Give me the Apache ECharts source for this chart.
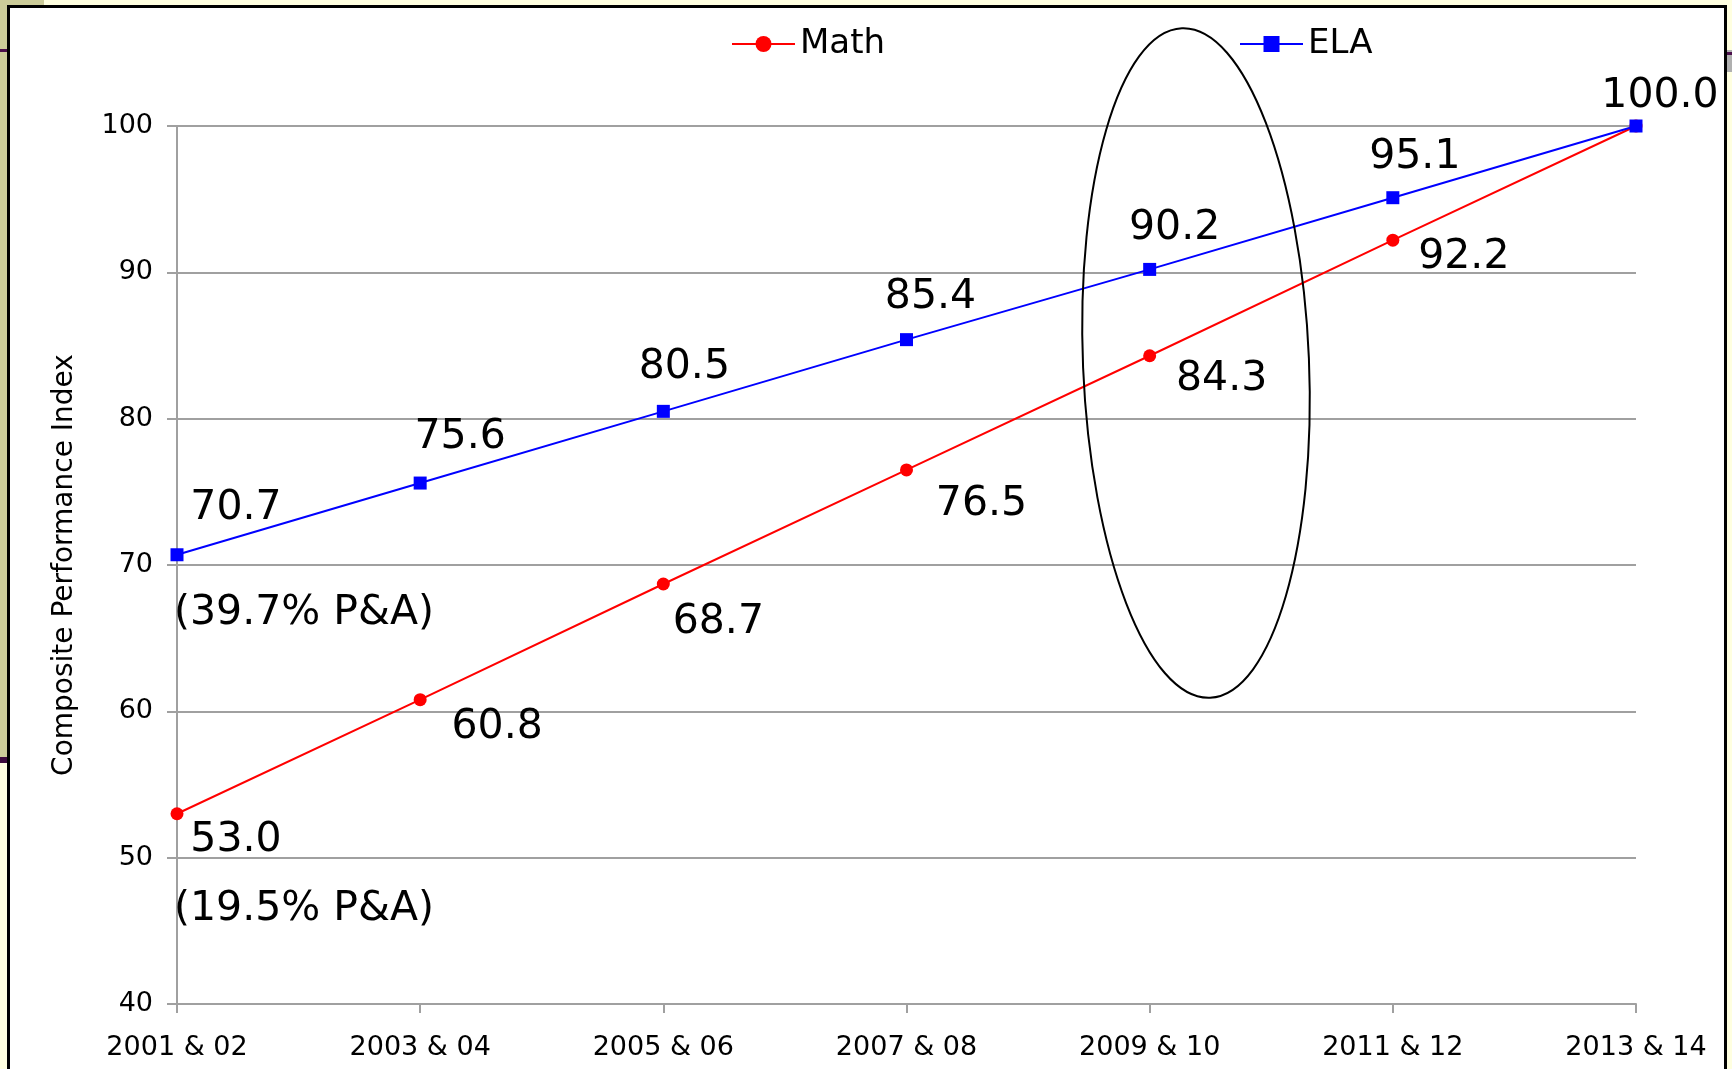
<!DOCTYPE html>
<html>
<head>
<meta charset="utf-8">
<script src="https://cdn.jsdelivr.net/npm/echarts@6/dist/echarts.min.js"></script>
<style>
  html, body { margin: 0; padding: 0; background: #ffffe0; }
  #chart { width: 1732px; height: 1069px; }
</style>
</head>
<body>
<div id="chart"></div>
<script>
// categories and values
const years = ['2001 & 02', '2003 & 04', '2005 & 06', '2007 & 08', '2009 & 10', '2011 & 12', '2013 & 14'];
const mathValues = [53.0, 60.8, 68.7, 76.5, 84.3, 92.2, 100.0];
const elaValues = [70.7, 75.6, 80.5, 85.4, 90.2, 95.1, 100.0];
const yTicks = { min: 40, max: 100, step: 10 };
const notes = ['(39.7% P&A)', '(19.5% P&A)'];

// label nudges (Excel put them a bit unevenly)
const mathShift = [[59, 27], [77, 28], [55, 38], [75, 34], [72, 24], [71, 17], [0, 0]];
const elaShift = [[59, -46], [40, -46], [21, -44], [24, -42], [25, -41], [22, -40], [24, -30]];

const FONT = 'DejaVu Sans';
const GRID_GRAY = '#a0a0a0';

const chart = echarts.init(document.getElementById('chart'));

const labelStyle = {
  color: '#000',
  fontFamily: FONT,
  fontSize: 41
};

const option = {
  backgroundColor: '#ffffe0',
  animation: false,
  graphic: [
    // slide bits around the chart object
    { type: 'rect', z: -10, shape: { x: 0, y: 0, width: 8, height: 760 }, style: { fill: '#cccc99' } },
    { type: 'rect', z: -10, shape: { x: 0, y: 0, width: 44, height: 6 }, style: { fill: '#cccc99' } },
    { type: 'rect', z: -9, shape: { x: 0, y: 49, width: 8, height: 3 }, style: { fill: '#4b0f4b' } },
    { type: 'rect', z: -9, shape: { x: 0, y: 757, width: 8, height: 6 }, style: { fill: '#3d0a3d' } },
    { type: 'rect', z: -10, shape: { x: 1727, y: 50, width: 5, height: 22 }, style: { fill: '#b0b0b0' } },
    { type: 'rect', z: -9, shape: { x: 1727, y: 52, width: 5, height: 3 }, style: { fill: '#4b0f4b' } },
    // white chart area with black frame
    {
      type: 'rect', z: -8,
      shape: { x: 8.5, y: 6.5, width: 1717, height: 1075 },
      style: { fill: '#ffffff', stroke: '#000', lineWidth: 3 }
    },
    // hand-drawn ellipse around 2009 & 10
    {
      type: 'ellipse', z: 100,
      x: 1196, y: 363, rotation: 0.042,
      shape: { cx: 0, cy: 0, rx: 113, ry: 335 },
      style: { fill: null, stroke: '#000', lineWidth: 2 }
    }
  ],
  legend: [
    {
      data: ['Math'],
      left: 726, top: 22,
      itemWidth: 63, itemHeight: 20,
      textStyle: { color: '#000', fontFamily: FONT, fontSize: 34 }
    },
    {
      data: ['ELA'],
      left: 1234, top: 22,
      itemWidth: 63, itemHeight: 20,
      textStyle: { color: '#000', fontFamily: FONT, fontSize: 34 }
    }
  ],
  grid: {
    left: 177,
    right: 96,
    top: 126,
    bottom: 65
  },
  xAxis: {
    type: 'category',
    data: years,
    boundaryGap: false,
    axisLine: { lineStyle: { color: GRID_GRAY, width: 2 } },
    axisTick: { show: true, alignWithLabel: true, length: 9, lineStyle: { color: GRID_GRAY, width: 2 } },
    axisLabel: { color: '#000', fontFamily: FONT, fontSize: 27, margin: 30 },
    splitLine: { show: false }
  },
  yAxis: {
    type: 'value',
    min: yTicks.min,
    max: yTicks.max,
    interval: yTicks.step,
    name: 'Composite Performance Index',
    nameLocation: 'middle',
    nameGap: 98,
    nameTextStyle: { color: '#000', fontFamily: FONT, fontSize: 28 },
    axisLine: { show: true, lineStyle: { color: GRID_GRAY, width: 2 } },
    axisTick: { show: true, length: 10, lineStyle: { color: GRID_GRAY, width: 2 } },
    axisLabel: { color: '#000', fontFamily: FONT, fontSize: 27, margin: 24 },
    splitLine: { lineStyle: { color: GRID_GRAY, width: 2 } }
  },
  series: [
    {
      name: 'Math',
      type: 'line',
      data: mathValues.map((v, i) => ({
        value: v,
        label: {
          show: i < mathValues.length - 1,
          position: 'inside',
          offset: mathShift[i]
        }
      })),
      symbol: 'circle',
      symbolSize: 13,
      itemStyle: { color: '#ff0000' },
      lineStyle: { color: '#ff0000', width: 2 },
      label: Object.assign({ formatter: (p) => p.value.toFixed(1) }, labelStyle),
      markPoint: {
        symbol: 'circle',
        symbolSize: 1,
        itemStyle: { color: 'rgba(0,0,0,0)' },
        label: Object.assign({ position: 'inside', offset: [127, 96], formatter: notes[1] }, labelStyle),
        data: [{ coord: [years[0], mathValues[0]] }]
      }
    },
    {
      name: 'ELA',
      type: 'line',
      data: elaValues.map((v, i) => ({
        value: v,
        label: {
          show: true,
          position: 'inside',
          offset: elaShift[i]
        }
      })),
      symbol: 'rect',
      symbolSize: 13,
      itemStyle: { color: '#0000ff' },
      lineStyle: { color: '#0000ff', width: 2 },
      label: Object.assign({ formatter: (p) => p.value.toFixed(1) }, labelStyle),
      markPoint: {
        symbol: 'circle',
        symbolSize: 1,
        itemStyle: { color: 'rgba(0,0,0,0)' },
        label: Object.assign({ position: 'inside', offset: [127, 59], formatter: notes[0] }, labelStyle),
        data: [{ coord: [years[0], elaValues[0]] }]
      }
    }
  ]
};

chart.setOption(option);
</script>
</body>
</html>
